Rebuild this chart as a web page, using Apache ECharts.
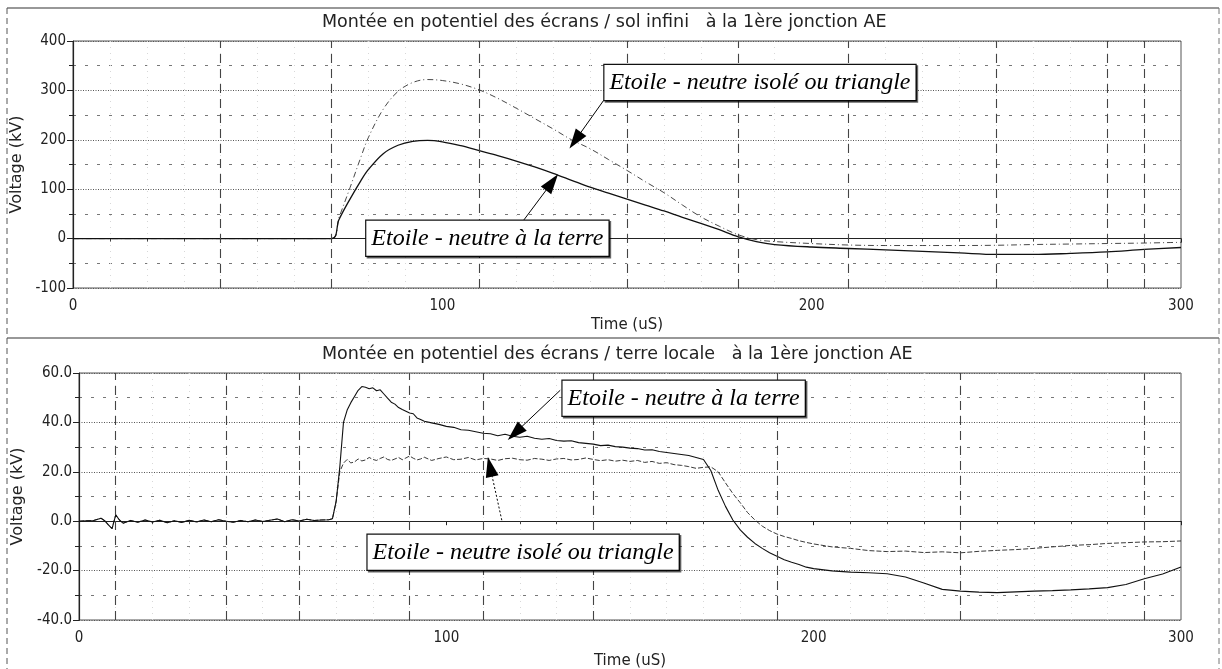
<!DOCTYPE html>
<html><head><meta charset="utf-8">
<script src="https://cdn.jsdelivr.net/npm/echarts@6/dist/echarts.min.js"></script>
<style>html,body{margin:0;padding:0;background:#fff}#c{width:1222px;height:669px}</style>
</head><body><div id="c"></div>
<script>
// ---------- data ----------
const topTitle = 'Montée en potentiel des écrans / sol infini   à la 1ère jonction AE';
const botTitle = 'Montée en potentiel des écrans / terre locale   à la 1ère jonction AE';
const xName = 'Time (uS)';
const yName = 'Voltage (kV)';
const labelGround = 'Etoile - neutre à la terre';
const labelIsolated = 'Etoile - neutre isolé ou triangle';

const topTime = [0,70,72,75,78,80,84,88,92,96,100,105,110,115,120,125,130,135,140,145,150,155,160,165,170,175,180,185,190,200,210,220,230,240,250,260,270,280,290,300];
const topGround = [0,0,38,80,118,140,172,189,197,199,196,188,178,168,157,145,132,118,104,92,80,68,56,43,31,18,4,-6,-12,-17,-20,-23,-26,-29,-32,-32,-30,-27,-22,-18];
const topIsolated = [0,0,42,103,166,205,262,298,316,322,320,313,301,284,264,243,222,200,182,160,138,115,93,68,44,25,8,-2,-6,-10,-13,-14,-14,-14,-13.5,-12,-11,-10,-9,-7.5];

const botTime = [0,2,4,6,7,8,9,10,11,12,14,16,18,20,22,24,26,28,30,32,34,36,38,40,42,44,46,48,50,52,54,56,58,60,62,64,66,68,
 69,70,71,72,73,74,75,76,77,78,79,80,81,82,83,84,85,86,87,88,89,90,91,92,93,94,
 96,98,100,102,104,106,108,110,112,114,116,118,120,122,124,126,128,130,132,134,136,138,140,142,144,146,148,150,152,154,156,158,160,162,164,166,168,170,172,174,176,178,180,182,184,186,188,190,192,194,196,198,200,
 205,210,215,220,225,230,235,240,245,250,255,260,265,270,275,280,285,290,295,300];
const botGround = [0,0.2,0.3,1.2,0.2,-1.5,-3,2.6,0.5,-0.8,0.3,-0.4,0.5,-0.3,0.4,-0.6,0.2,-0.5,0.4,-0.3,0.5,-0.2,0.6,0.0,-0.4,0.3,-0.2,0.5,-0.1,0.4,0.9,-0.2,0.6,0.1,0.8,0.3,0.5,0.6,
 1,8,22,40,45,48,50.5,53,54.5,54.2,53.6,54,52.8,53.2,51.5,49.8,48.2,47.4,46,45.2,44.5,43.8,43.5,41.8,41.2,40.5,
 39.8,39.2,38.4,38,37,36.8,36.2,35.6,35.4,34.6,35.2,34.4,34,34.4,33.6,33.2,33.5,32.7,32.4,32.6,31.8,31.5,31.2,30.6,30.8,30.2,30,29.6,29.4,28.8,28.9,28.2,27.8,27.4,27,26.6,25.8,25,20.5,12.5,6,0.5,-3.5,-6.5,-9,-11,-12.8,-14.2,-15.6,-16.6,-17.5,-18.6,-19.2,
 -20.1,-20.6,-20.9,-21.3,-22.6,-25,-27.6,-28.3,-28.7,-28.9,-28.6,-28.3,-28.1,-27.8,-27.4,-26.9,-25.6,-23.3,-21.4,-18.5];
const botIsolated = [0,0.2,0.3,1.2,0.2,-1.5,-3,2.6,0.5,-0.8,0.3,-0.4,0.5,-0.3,0.4,-0.6,0.2,-0.5,0.4,-0.3,0.5,-0.2,0.6,0.0,-0.4,0.3,-0.2,0.5,-0.1,0.4,0.9,-0.2,0.6,0.1,0.8,0.3,0.5,0.6,
 1,8,20,23.5,25,23.6,24,25.2,24.4,24.8,25.8,25,24.6,25.4,26,25,24.6,25.2,25.8,24.9,25.6,26.4,25.5,24.8,25.2,25.9,
 24.6,25.4,26,24.9,25.1,25.8,24.8,25.4,25.2,24.6,25.3,25.5,24.9,24.7,25.4,25.1,24.6,25.2,25.4,24.8,25,25.6,25,24.5,24.9,24.3,24.7,24.2,24.6,23.8,24.2,23.4,23.7,22.9,22.6,22.1,21.4,21.8,22,20,15.5,11.2,7.5,3.5,0.5,-2,-3.8,-5.2,-6.2,-7,-7.9,-8.6,-9.2,
 -10.4,-11,-11.9,-12.3,-12.1,-12.7,-12.4,-12.8,-12.2,-11.8,-11.5,-11,-10.4,-9.8,-9.5,-9,-8.7,-8.4,-8.3,-8];

// vertical dashed grid positions seen on the plots (uS)
const vGridTop = [40,70,110,150,180,210,250,280,290];
const vGridBot = [10,40,60,90,110,140,190,240,290];

// annotation anchors (data coordinates)
const topIsoBox = [186,316], topIsoArrow = [[143.7,280],[136,199]];
const topGndBox = [112.2,0.6], topGndArrow = [[122,37],[129.7,114]];
const botGndBox = [164.6,49.8], botGndArrow = [[131,53],[118.7,35.7]];
const botIsoBox = [120.9,-12.6], botIsoArrow = [[115.1,0.4],[111.9,22]];

// ---------- chart ----------
const F = "'DejaVu Sans',sans-serif";
const FN = "'Liberation Sans Narrow','DejaVu Sans Condensed','DejaVu Sans',sans-serif";
const SERIF = "'Liberation Serif','DejaVu Serif',serif";
const zip = (xs, ys) => xs.map((x, i) => [x, ys[i]]);

function boxPoint(coord, text) {
  return {
    coord: coord, symbol: 'rect', symbolSize: 1, itemStyle: {color: 'rgba(0,0,0,0)'},
    label: {show: true, position: 'inside', formatter: text, fontFamily: SERIF, fontStyle: 'italic',
      fontSize: 24, color: '#000', backgroundColor: '#fff', borderColor: '#111', borderWidth: 1.2,
      padding: [6, 5, 5, 5], shadowColor: 'rgba(0,0,0,0.6)', shadowOffsetX: 1.5, shadowOffsetY: 1.5, shadowBlur: 0}
  };
}
function arrow(a) {
  return [{coord: a[0], symbol: 'none'}, {coord: a[1], symbol: 'triangle', symbolSize: [13, 20]}];
}
function xAx(gi, labelMargin, nameGap) {
  return {
    gridIndex: gi, type: 'value', min: 0, max: 300, interval: 100,
    name: xName, nameLocation: 'middle', nameGap: nameGap,
    nameTextStyle: {fontFamily: F, fontSize: 15, color: '#222'},
    axisLine: {lineStyle: {color: '#222', width: 1.2}},
    axisTick: {show: true, length: 4, lineStyle: {color: '#222'}},
    minorTick: {show: true, splitNumber: 10, length: 3, lineStyle: {color: '#444'}},
    axisLabel: {fontFamily: FN, fontSize: 15, color: '#222', margin: labelMargin},
    splitLine: {show: false},
    minorSplitLine: {show: true, lineStyle: {color: '#d8d8d8', type: [1, 5], width: 1}}
  };
}
function yAx(gi, min, max, itv, fmt, gap) {
  return {
    gridIndex: gi, type: 'value', min: min, max: max, interval: itv,
    name: yName, nameLocation: 'middle', nameGap: gap,
    nameTextStyle: {fontFamily: F, fontSize: 16, color: '#222'},
    axisLine: {show: true, lineStyle: {color: '#222', width: 1.2}},
    axisTick: {show: true, length: 6, lineStyle: {color: '#222'}},
    minorTick: {show: true, splitNumber: 2, length: 4, lineStyle: {color: '#222'}},
    axisLabel: {fontFamily: FN, fontSize: 15, color: '#222', margin: 7, formatter: fmt},
    splitLine: {show: true, lineStyle: {color: '#555', type: [1, 1.5], width: 1}},
    minorSplitLine: {show: true, lineStyle: {color: '#777', type: [3, 9], width: 1}}
  };
}
const vLines = (arr) => ({
  silent: true, symbol: 'none', label: {show: false},
  lineStyle: {color: '#444', type: [9, 6], width: 1.1},
  data: arr.map(v => ({xAxis: v}))
});
const arrowStyle = (type) => ({color: '#000', width: 1, type: type});

const chart = echarts.init(document.getElementById('c'), null, {renderer: 'canvas'});
chart.setOption({
  animation: false,
  backgroundColor: '#fff',
  graphic: [
    {type: 'text', left: 322, top: 13, style: {text: topTitle, font: '17.5px ' + F, fill: '#222'}},
    {type: 'text', left: 322, top: 345, style: {text: botTitle, font: '17.5px ' + F, fill: '#222'}},
    {type: 'line', shape: {x1: 7, y1: 8, x2: 1219, y2: 8}, style: {stroke: '#333', lineWidth: 1.2}},
    {type: 'line', shape: {x1: 7, y1: 338, x2: 1219, y2: 338}, style: {stroke: '#333', lineWidth: 1.2}},
    {type: 'line', shape: {x1: 7, y1: 8, x2: 7, y2: 669}, style: {stroke: '#555', lineWidth: 1, lineDash: [6, 4]}},
    {type: 'line', shape: {x1: 1219, y1: 8, x2: 1219, y2: 669}, style: {stroke: '#777', lineWidth: 1, lineDash: [6, 4]}}
  ],
  grid: [
    {left: 73, right: 41, top: 41, height: 247, outerBoundsMode: 'none', containLabel: false, show: true, borderColor: '#555', borderWidth: 1, backgroundColor: 'transparent'},
    {left: 79, right: 41, top: 373, height: 247, outerBoundsMode: 'none', containLabel: false, show: true, borderColor: '#555', borderWidth: 1, backgroundColor: 'transparent'}
  ],
  xAxis: [xAx(0, 11, 30), xAx(1, 11, 34)],
  yAxis: [
    yAx(0, -100, 400, 100, v => String(v), 47),
    yAx(1, -40, 60, 20, v => v.toFixed(1), 53)
  ],
  series: [
    {type: 'line', xAxisIndex: 0, yAxisIndex: 0, data: zip(topTime, topIsolated), smooth: 0.35, showSymbol: false,
      lineStyle: {color: '#333', width: 0.9, type: [6, 3, 1, 3]},
      markLine: {silent: true, label: {show: false}, lineStyle: arrowStyle('solid'), data: [arrow(topIsoArrow)]},
      markPoint: {data: [boxPoint(topIsoBox, labelIsolated)]}},
    {type: 'line', xAxisIndex: 0, yAxisIndex: 0, data: zip(topTime, topGround), smooth: 0.35, showSymbol: false,
      lineStyle: {color: '#111', width: 1.3}, z: 3,
      markPoint: {data: [boxPoint(topGndBox, labelGround)]}},
    {type: 'line', xAxisIndex: 0, yAxisIndex: 0, data: [], markLine: vLines(vGridTop)},
    {type: 'line', xAxisIndex: 0, yAxisIndex: 0, data: [], markLine: {silent: true, label: {show: false}, lineStyle: arrowStyle('solid'), data: [arrow(topGndArrow)]}},

    {type: 'line', xAxisIndex: 1, yAxisIndex: 1, data: zip(botTime, botIsolated), showSymbol: false,
      lineStyle: {color: '#222', width: 0.9, type: [5, 2]},
      markPoint: {data: [boxPoint(botIsoBox, labelIsolated)]}},
    {type: 'line', xAxisIndex: 1, yAxisIndex: 1, data: zip(botTime, botGround), showSymbol: false,
      lineStyle: {color: '#111', width: 1.1}, z: 3,
      markPoint: {data: [boxPoint(botGndBox, labelGround)]}},
    {type: 'line', xAxisIndex: 1, yAxisIndex: 1, data: [], markLine: vLines(vGridBot)},
    {type: 'line', xAxisIndex: 1, yAxisIndex: 1, data: [], markLine: {silent: true, label: {show: false}, lineStyle: arrowStyle('solid'), data: [arrow(botGndArrow)]}},
    {type: 'line', xAxisIndex: 1, yAxisIndex: 1, data: [], markLine: {silent: true, label: {show: false}, lineStyle: arrowStyle([2, 2]), data: [arrow(botIsoArrow)]}}
  ]
});
</script>
</body></html>
